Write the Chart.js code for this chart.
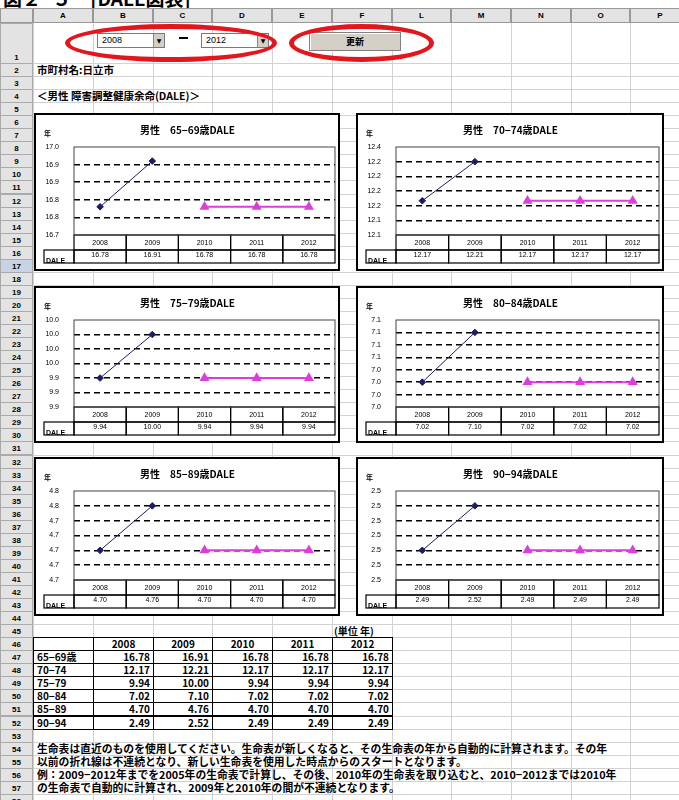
<!DOCTYPE html>
<html>
<head>
<meta charset="utf-8">
<script src="https://cdn.jsdelivr.net/npm/chart.js@4.4.1/dist/chart.umd.min.js"></script>
<style>
body { margin:0; width:679px; height:800px; overflow:hidden; background:#fff; position:relative; font-family:"Noto Sans CJK JP", sans-serif; }
.a { position:absolute; }
.hdr { background:#e3e3e3; color:#000; font:bold 8px "Liberation Sans", sans-serif; text-align:center; box-sizing:border-box; }
.txt { font-weight:bold; font-size:10.5px; white-space:nowrap; color:#000; line-height:13px; }
.box { background:#fff; border:2px solid #000; box-sizing:border-box; }
.cell { border:1px solid #000; box-sizing:border-box; font:bold 10px "Noto Sans CJK JP", sans-serif; line-height:12px; padding:0 3px; white-space:nowrap; background:#fff; }
</style>
</head>
<body>
<div id="sheet"></div>
<script>
// --- data ---
const years = ['2008', '2009', '2010', '2011', '2012'];
const ageGroups = ['65−69歳', '70−74', '75−79', '80−84', '85−89', '90−94'];
const chartTitles = ['男性　65−69歳DALE', '男性　70−74歳DALE', '男性　75−79歳DALE',
                     '男性　80−84歳DALE', '男性　85−89歳DALE', '男性　90−94歳DALE'];

const dale6569 = [16.78, 16.91, 16.78, 16.78, 16.78];
const dale7074 = [12.17, 12.21, 12.17, 12.17, 12.17];
const dale7579 = [9.94, 10.00, 9.94, 9.94, 9.94];
const dale8084 = [7.02, 7.10, 7.02, 7.02, 7.02];
const dale8589 = [4.70, 4.76, 4.70, 4.70, 4.70];
const dale9094 = [2.49, 2.52, 2.49, 2.49, 2.49];

// y axis ranges (as Excel picked them) and tick labels as printed, bottom -> top
const yMin  = [16.70, 12.135, 9.90, 6.98, 4.66, 2.47];
const yMax  = [16.95, 12.225, 10.02, 7.12, 4.78, 2.53];
const yStep = [0.05, 0.015, 0.02, 0.02, 0.02, 0.01];
const ticks6569 = ['16.7', '16.8', '16.8', '16.9', '16.9', '17.0'];
const ticks7074 = ['12.1', '12.1', '12.2', '12.2', '12.2', '12.2', '12.4'];
const ticks7579 = ['9.9', '9.9', '9.9', '10.0', '10.0', '10.0', '10.0'];
const ticks8084 = ['7.0', '7.0', '7.0', '7.0', '7.1', '7.1', '7.1', '7.1'];
const ticks8589 = ['4.7', '4.7', '4.7', '4.7', '4.7', '4.8', '4.8'];
const ticks9094 = ['2.5', '2.5', '2.5', '2.5', '2.5', '2.5', '2.5'];

const seriesAll = [dale6569, dale7074, dale7579, dale8084, dale8589, dale9094];
const ticksAll = [ticks6569, ticks7074, ticks7579, ticks8084, ticks8589, ticks9094];

const notes = [
  '生命表は直近のものを使用してください。生命表が新しくなると、その生命表の年から自動的に計算されます。その年',
  '以前の折れ線は不連続となり、新しい生命表を使用した時点からのスタートとなります。',
  '例：2009−2012年までを2005年の生命表で計算し、その後、2010年の生命表を取り込むと、2010−2012までは2010年',
  'の生命表で自動的に計算され、2009年と2010年の間が不連続となります。'
];

// --- sheet grid ---
const sheet = document.getElementById('sheet');
function el(cls, x, y, w, h, html, style) {
  const d = document.createElement('div');
  d.className = 'a ' + (cls || '');
  d.style.left = x + 'px'; d.style.top = y + 'px';
  if (w != null) d.style.width = w + 'px';
  if (h != null) d.style.height = h + 'px';
  if (html != null) d.innerHTML = html;
  if (style) Object.assign(d.style, style);
  sheet.appendChild(d);
  return d;
}
const colX = [0, 33, 93, 153, 212, 272, 332, 392, 451, 511, 571, 630, 690];
const colNames = ['A', 'B', 'C', 'D', 'E', 'F', 'L', 'M', 'N', 'O', 'P'];
const hdrTop = 8, hdrBot = 23, row1Bot = 63, rowH = 13.05;
function rowTop(n) { return n === 1 ? hdrBot : row1Bot + (n - 2) * rowH; }

el('', 3, -16, 300, 22, '図２−５　[DALE図表]', {font:'bold 19px "Noto Sans CJK JP"', whiteSpace:'nowrap'});

// grid lines
for (let n = 1; n <= 60; n++) {
  el('', 33, rowTop(n) + (n === 1 ? row1Bot - hdrBot : rowH), 679, 1, null, {background:'#d2d2d2'});
}
for (let i = 1; i < colX.length; i++) {
  el('', colX[i], hdrBot, 1, 800, null, {background:'#d2d2d2'});
}
// column headers
el('hdr', 0, hdrTop, 33, hdrBot - hdrTop, null, {border:'1px solid #999'});
colNames.forEach((c, i) => {
  el('hdr', colX[i + 1], hdrTop, colX[i + 2] - colX[i + 1], hdrBot - hdrTop, c,
     {border:'1px solid #999', lineHeight:(hdrBot - hdrTop - 2) + 'px'});
});
// row headers
for (let n = 1; n <= 58; n++) {
  const t = rowTop(n), h = n === 1 ? row1Bot - hdrBot : rowH;
  el('hdr', 0, t, 33, h + 1, String(n),
     {border:'1px solid #aaa', lineHeight:'12px', paddingTop:(h - 12) + 'px',
      background: n === 17 ? '#c9d3e6' : '#e3e3e3'});
}

// row 1 controls
function combo(x, val) {
  el('', x, 33, 68, 15, null, {border:'1px solid #7a7a7a', background:'#fff', boxSizing:'border-box'});
  el('', x + 5, 33, 40, 15, val, {font:'9px "Liberation Sans"', lineHeight:'15px'});
  el('', x + 56, 34, 11, 13, '▼', {background:'#d4d0c8', font:'6px "DejaVu Sans"', lineHeight:'13px',
     textAlign:'center', borderLeft:'1px solid #888', boxSizing:'border-box'});
}
combo(97, '2008');
el('', 179, 37, 9, 1.5, null, {background:'#000'});
combo(201, '2012');
el('', 309, 32, 92, 19, '更新', {background:'#d4d0c8', border:'1px solid #808080', boxSizing:'border-box',
   font:'bold 9px "Noto Sans CJK JP"', textAlign:'center', lineHeight:'17px', boxShadow:'inset 1px 1px #fff'});
el('', 65, 24, 212, 38, null, {border:'5px solid #e3161e', borderRadius:'50%', boxSizing:'border-box'});
el('', 289, 24, 145, 38, null, {border:'5px solid #e3161e', borderRadius:'50%', boxSizing:'border-box'});

el('txt', 37, rowTop(2), null, null, '市町村名:日立市');
el('txt', 37, rowTop(4), null, null, '＜男性 障害調整健康余命(DALE)＞');

// summary table (rows 45-52)
el('txt', 334, rowTop(45), null, null, '(単位 年)', {fontSize:'10px'});
const tTop = rowTop(46);
for (let r = 0; r < 7; r++) {
  for (let c = 0; c < 6; c++) {
    let txt = '', align = 'right';
    if (r === 0 && c > 0) { txt = years[c - 1]; align = 'center'; }
    if (r > 0 && c === 0) { txt = ageGroups[r - 1]; align = 'left'; }
    if (r > 0 && c > 0) txt = seriesAll[r - 1][c - 1].toFixed(2);
    el('cell', colX[c + 1], tTop + r * rowH, colX[c + 2] - colX[c + 1] + 1, rowH + 1, txt, {textAlign:align});
  }
}
el('', colX[1], tTop, colX[7] - colX[1] + 1, 7 * rowH + 1, null, {border:'1.5px solid #000', boxSizing:'border-box'});

notes.forEach((t, i) => el('txt', 37, rowTop(54 + i), null, null, t, {fontSize:'10.8px'}));

// --- charts ---
const boxes = [
  [34, 113, 306, 158], [356, 113, 308, 158],
  [34, 286, 306, 157], [356, 286, 308, 157],
  [34, 457, 306, 159], [356, 457, 308, 159]
];
const row1H = 15, row2H = 13;

const dataTable = {
  id: 'dataTable',
  afterDraw(chart) {
    const { ctx, chartArea: a, scales: { x } } = chart;
    const vals = chart.config.options.tableValues;
    const cw = (a.right - a.left) / years.length;
    const r1 = a.bottom, r2 = r1 + row1H;
    ctx.save();
    ctx.strokeStyle = '#000';
    ctx.lineWidth = 1.2;
    ctx.fillStyle = '#000';
    ctx.textAlign = 'center';
    ctx.textBaseline = 'middle';
    ctx.font = '7px "Liberation Sans"';
    years.forEach((y, i) => {
      const cx = x.getPixelForValue(i);
      ctx.strokeRect(cx - cw / 2, r1, cw, row1H);
      ctx.strokeRect(cx - cw / 2, r2, cw, row2H);
      ctx.fillText(y, cx, r1 + row1H / 2 + 0.5);
      ctx.fillText(vals[i].toFixed(2), cx, r2 + row2H / 2 - 1);
    });
    ctx.strokeRect(8, r2, a.left - 8, row2H);
    ctx.textAlign = 'left';
    ctx.font = 'bold 7px "Liberation Sans"';
    ctx.fillText('DALE', 10, r2 + row2H - 2);
    // plot frame
    ctx.lineWidth = 1;
    ctx.strokeStyle = '#444';
    ctx.strokeRect(a.left, a.top, a.right - a.left, a.bottom - a.top);
    // unit mark
    ctx.font = 'bold 7px "Noto Sans CJK JP"';
    ctx.fillText('年', 8, 18);
    ctx.restore();
  }
};

boxes.forEach((b, k) => {
  const box = el('box', b[0], b[1], b[2], b[3]);
  const wrap = document.createElement('div');
  wrap.style.cssText = 'position:relative;width:100%;height:100%;';
  const cv = document.createElement('canvas');
  wrap.appendChild(cv);
  box.appendChild(wrap);
  const v = seriesAll[k];
  const labels = ticksAll[k];
  new Chart(cv, {
    type: 'line',
    data: {
      labels: years,
      datasets: [
        {
          data: [v[0], v[1], null, null, null],
          borderColor: '#1d1d66', backgroundColor: '#1d1d66',
          borderWidth: 1, pointStyle: 'rectRot', pointRadius: 3.3, spanGaps: false
        },
        {
          data: [null, null, v[2], v[3], v[4]],
          borderColor: '#dd3ddd', backgroundColor: '#dd3ddd',
          borderWidth: 2, pointStyle: 'triangle', pointRadius: 3.8, spanGaps: false
        }
      ]
    },
    options: {
      tableValues: v,
      animation: false,
      responsive: true,
      maintainAspectRatio: false,
      layout: { padding: { top: 0, left: 4, right: 3, bottom: row1H + row2H + 6 }, autoPadding: false },
      plugins: {
        legend: { display: false },
        tooltip: { enabled: false },
        title: {
          display: true, text: chartTitles[k], color: '#000',
          font: { size: 10, weight: 'bold', family: '"Noto Sans CJK JP"' },
          padding: { top: 9, bottom: 11 }
        }
      },
      scales: {
        x: { display: false, offset: true },
        y: {
          min: yMin[k], max: yMax[k],
          afterFit: s => { s.width = 34; },
          ticks: {
            stepSize: yStep[k], autoSkip: false, padding: 15, color: '#000',
            font: { size: 7, family: '"Liberation Sans"' },
            callback: (val, i) => labels[i]
          },
          grid: {
            drawTicks: false, tickLength: 0, lineWidth: 1.5,
            color: c => (c.index > 0 && c.index < labels.length - 1) ? '#000' : 'rgba(0,0,0,0)'
          },
          border: { display: false, dash: [6, 4] }
        }
      }
    },
    plugins: [dataTable]
  });
});
</script>
</body>
</html>
